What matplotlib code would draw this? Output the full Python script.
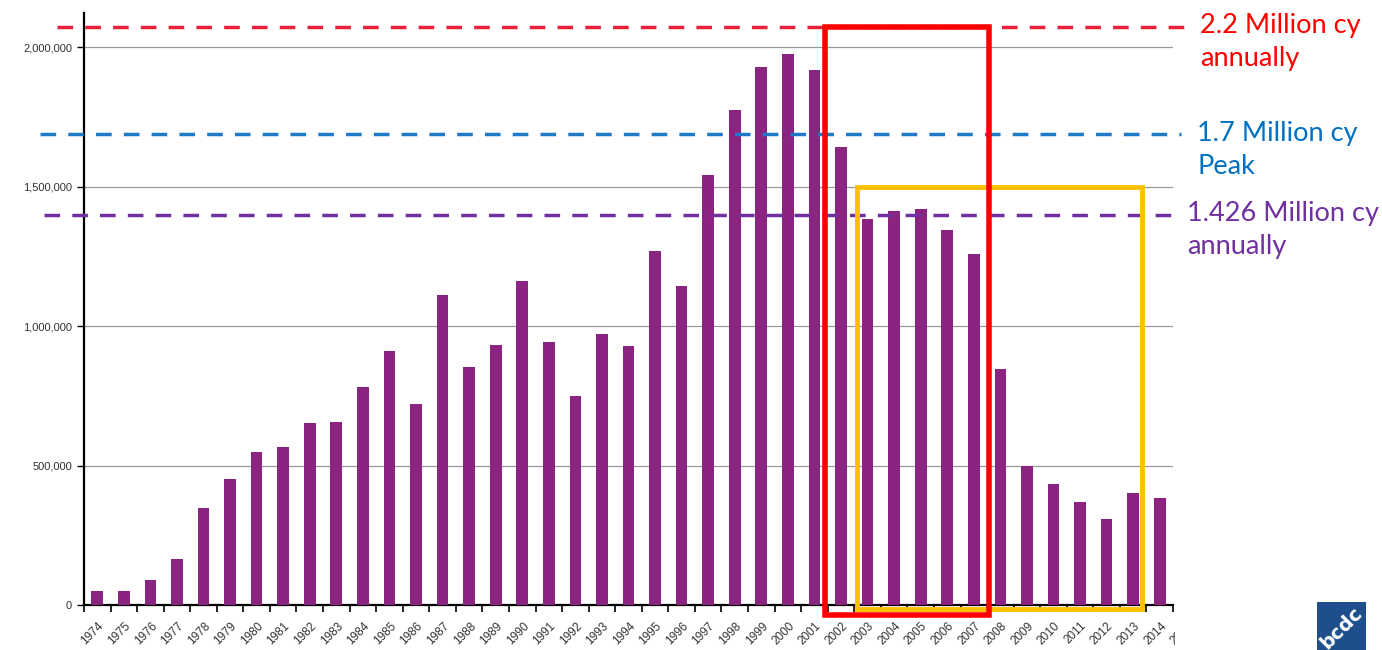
import matplotlib.pyplot as plt
from matplotlib.patches import Rectangle
from matplotlib.transforms import Bbox, TransformedBbox

# данные
years = [str(y) for y in range(1974, 2016)]
volumes = [50000, 50000, 90000, 165000, 348000, 452000, 548000, 566000, 652000, 656000,
           781000, 910000, 720000, 1111000, 853000, 932000, 1161000, 943000, 749000, 971000,
           928000, 1269000, 1143000, 1541000, 1774000, 1928000, 1975000, 1918000, 1642000, 1384000,
           1412000, 1419000, 1344000, 1258000, 846000, 498000, 434000, 369000, 308000, 401000,
           384000]
y_ticks = [0, 500000, 1000000, 1500000, 2000000]

ref_values = [2072000, 1688000, 1398000]
ref_colors = ["#E8203A", "#1F78C8", "#7030A0"]
ref_labels = ["2.2 Million cy\nannually", "1.7 Million cy\nPeak", "1.426 Million cy\nannually"]
ref_text_colors = ["#FF0000", "#0070C0", "#7030A0"]

fig = plt.figure(figsize=(13.82, 6.5), dpi=100)
ax = fig.add_axes([84 / 1382, 1 - 605 / 650, (1173 - 84) / 1382, (605 - 13) / 650])

x = list(range(len(volumes)))
ax.bar(x, volumes, width=0.44, color="#8B2381", zorder=3)

ax.set_xlim(-0.5, len(volumes) - 0.5)
ax.set_ylim(0, 2122000)
ax.set_yticks(y_ticks)
ax.set_yticklabels([f"{v:,}" for v in y_ticks], fontsize=8, color="#333333", family="Liberation Sans")
ax.yaxis.grid(True, color="#999999", linewidth=0.9, zorder=1)

ax.set_xticks([i - 0.5 for i in range(len(volumes) + 1)])
ax.set_xticklabels([])
ax.tick_params(axis="x", length=5, width=1.2, direction="out")
ax.tick_params(axis="y", length=5, width=1.0, direction="out")

# подписи годов (последняя обрезана краем картинки)
clip_box = TransformedBbox(Bbox([[0, 0], [1175 / 1382, 1]]), fig.transFigure)
for i, lab in enumerate(years):
    t = ax.text(i + 0.02, -0.025, lab, transform=ax.get_xaxis_transform(), rotation=45,
                ha="right", va="top", rotation_mode="anchor", fontsize=8.5, color="#333333",
                family="Liberation Sans")
    t.set_clip_box(clip_box)
    t.set_clip_on(True)

for side in ("top", "right"):
    ax.spines[side].set_visible(False)
ax.spines["left"].set_linewidth(1.6)
ax.spines["bottom"].set_linewidth(1.6)

# горизонтальные пунктирные линии
trans = ax.get_yaxis_transform()
x_ranges = [(-0.025, 1.016), (-0.04, 1.007), (-0.037, 1.002)]
for val, col, (x0, x1) in zip(ref_values, ref_colors, x_ranges):
    ax.plot([x0, x1], [val, val], transform=trans, color=col, linewidth=2.5,
            linestyle=(0, (4.5, 3.5)), clip_on=False, zorder=4)

text_pos = [(1200, 13), (1197, 121), (1187, 201)]
for lab, col, (px, py) in zip(ref_labels, ref_text_colors, text_pos):
    fig.text(px / 1382, 1 - py / 650, lab, color=col, fontsize=19.5, family="Lato",
             ha="left", va="top", linespacing=1.4)

# рамки
ax.add_patch(Rectangle((27.41, -36000), 33.59 - 27.41, 2072000 + 36000, fill=False,
                       edgecolor="#FF0000", linewidth=4, clip_on=False, zorder=6))
ax.add_patch(Rectangle((28.61, -14000), 39.35 - 28.61, 1498000 + 14000, fill=False,
                       edgecolor="#FFC000", linewidth=3.5, clip_on=False, zorder=5))

# логотип
fig.patches.append(Rectangle((1317 / 1382, 0), 49 / 1382, 48 / 650, transform=fig.transFigure,
                             facecolor="#1E4E8C", edgecolor="none"))
fig.text(1342 / 1382, 22 / 650, "bcdc", color="white", fontsize=14, fontweight="bold",
         rotation=45, ha="center", va="center", family="DejaVu Sans")

fig.savefig("out.png", dpi=100)
